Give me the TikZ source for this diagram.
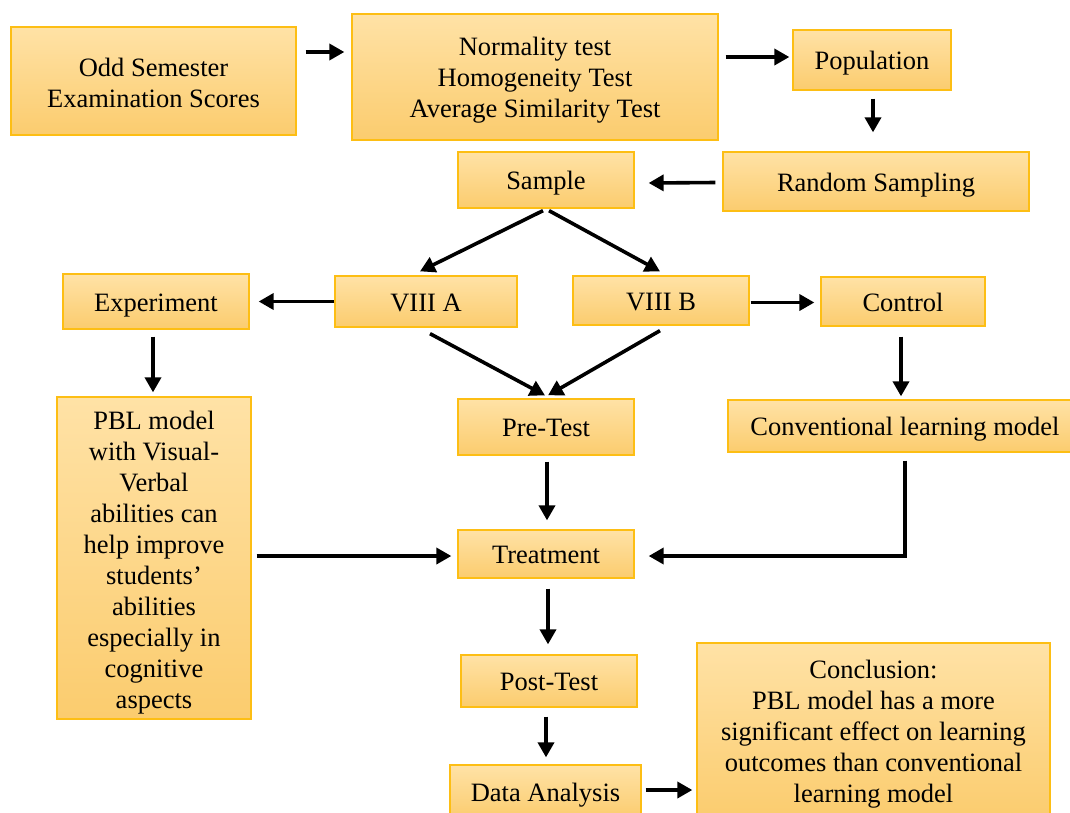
\documentclass[tikz,border=0pt]{standalone}
\usepackage{fontspec}
\setmainfont{Liberation Serif}
\usetikzlibrary{calc,arrows.meta}
\definecolor{boxtop}{RGB}{255,226,166}
\definecolor{boxbot}{RGB}{251,204,110}
\definecolor{boxline}{RGB}{253,190,20}
\newcommand{\bt}[2][-3.5pt]{\raisebox{#1}[\height][\depth]{\begin{tabular}{@{}c@{}}#2\end{tabular}}}
\tikzset{
  fbox/.style={draw=boxline, line width=1.3pt, top color=boxtop, bottom color=boxbot,
    inner sep=0pt, font=\fontsize{26.5}{31}\selectfont},
  arr/.style={line width=3.6pt, -{Triangle[length=15pt,width=16pt]}}
}
\begin{document}
\begin{tikzpicture}[x=1pt,y=-1pt]
\useasboundingbox (0,0) rectangle (1070,812);
\node[fbox, minimum width=285pt, minimum height=108pt] (odd) at (153.5,81) {\bt[-5pt]{Odd Semester\\Examination Scores}};
\node[fbox, minimum width=366pt, minimum height=126pt] (norm) at (535,77) {\bt{Normality test\\Homogeneity Test\\Average Similarity Test}};
\node[fbox, minimum width=158pt, minimum height=60pt] (pop) at (872,60) {\bt{Population}};
\node[fbox, minimum width=306pt, minimum height=59pt] (rs) at (876,181.5) {\bt{Random Sampling}};
\node[fbox, minimum width=176pt, minimum height=56pt] (sample) at (546,180) {\bt{Sample}};
\node[fbox, minimum width=186pt, minimum height=55pt] (exp) at (156,301.5) {\bt{Experiment}};
\node[fbox, minimum width=182pt, minimum height=51pt] (va) at (426,301.5) {\bt{VIII A}};
\node[fbox, minimum width=176pt, minimum height=49pt] (vb) at (661,300.5) {\bt{VIII B}};
\node[fbox, minimum width=164pt, minimum height=49pt] (ctrl) at (903,301.5) {\bt{Control}};
\node[fbox, minimum width=194pt, minimum height=322pt] (pbl) at (154,558) {\bt[-5pt]{PBL model\\with Visual-\\Verbal\\abilities can\\help improve\\students’\\abilities\\especially in\\cognitive\\aspects}};
\node[fbox, minimum width=176pt, minimum height=56pt] (pre) at (546,427) {\bt{Pre-Test}};
\node[fbox, minimum width=354pt, minimum height=52pt] (conv) at (905,426) {\bt{Conventional learning model}};
\node[fbox, minimum width=176pt, minimum height=48pt] (treat) at (546,554) {\bt{Treatment}};
\node[fbox, minimum width=176pt, minimum height=52pt] (post) at (549,681) {\bt{Post-Test}};
\node[fbox, minimum width=191pt, minimum height=54pt] (da) at (545.5,792) {\bt{Data Analysis}};
\node[fbox, minimum width=353pt, minimum height=176pt] (concl) at (873.5,731) {\bt{Conclusion:\\PBL model has a more\\significant effect on learning\\outcomes than conventional\\learning model}};
% connectors
\draw[arr] ($(odd.east)+(9,-29)$) -- ($(norm.west)+(-7,-25)$);
\draw[arr] ($(norm.east)+(7,-20)$) -- ($(pop.west)+(-3,-3)$);
\draw[arr] ($(pop.south)+(1,8)$) -- ($(rs.north)+(-3,-19)$);
\draw[arr] ($(rs.west)+(-7,1)$) -- ($(sample.east)+(14,3)$);
\draw[arr] ($(sample.south)+(-3,2)$) -- ($(va.north)+(-6,-4)$);
\draw[arr] ($(sample.south)+(3,2)$) -- ($(vb.north)+(-1,-4)$);
\draw[arr] ($(va.west)+(0,0)$) -- ($(exp.east)+(9,0)$);
\draw[arr] ($(vb.east)+(1,2)$) -- ($(ctrl.west)+(-6,1)$);
\draw[arr] ($(exp.south)+(-3,7)$) -- ($(pbl.north)+(-1,-4)$);
\draw[arr] ($(ctrl.south)+(-2,10)$) -- ($(conv.north)+(-4,-3)$);
\draw[arr] ($(va.south)+(4,6)$) -- ($(pre.north)+(-1,-3)$);
\draw[arr] ($(vb.south)+(-1,5)$) -- ($(pre.north)+(2,-3)$);
\draw[arr] ($(pre.south)+(1,6)$) -- ($(treat.north)+(1,-9)$);
\draw[arr] ($(pbl.east)+(5,-2)$) -- ($(treat.west)+(-6,2)$);
\draw[arr] ($(conv.south)+(0,8)$) |- ($(treat.east)+(14,2)$);
\draw[arr] ($(treat.south)+(2,10)$) -- ($(post.north)+(-1,-10)$);
\draw[arr] ($(post.south)+(-3,9)$) -- ($(da.north)+(0.5,-7)$);
\draw[arr] ($(da.east)+(4,-2)$) -- ($(concl.west)+(-4,59)$);
\end{tikzpicture}
\end{document}
